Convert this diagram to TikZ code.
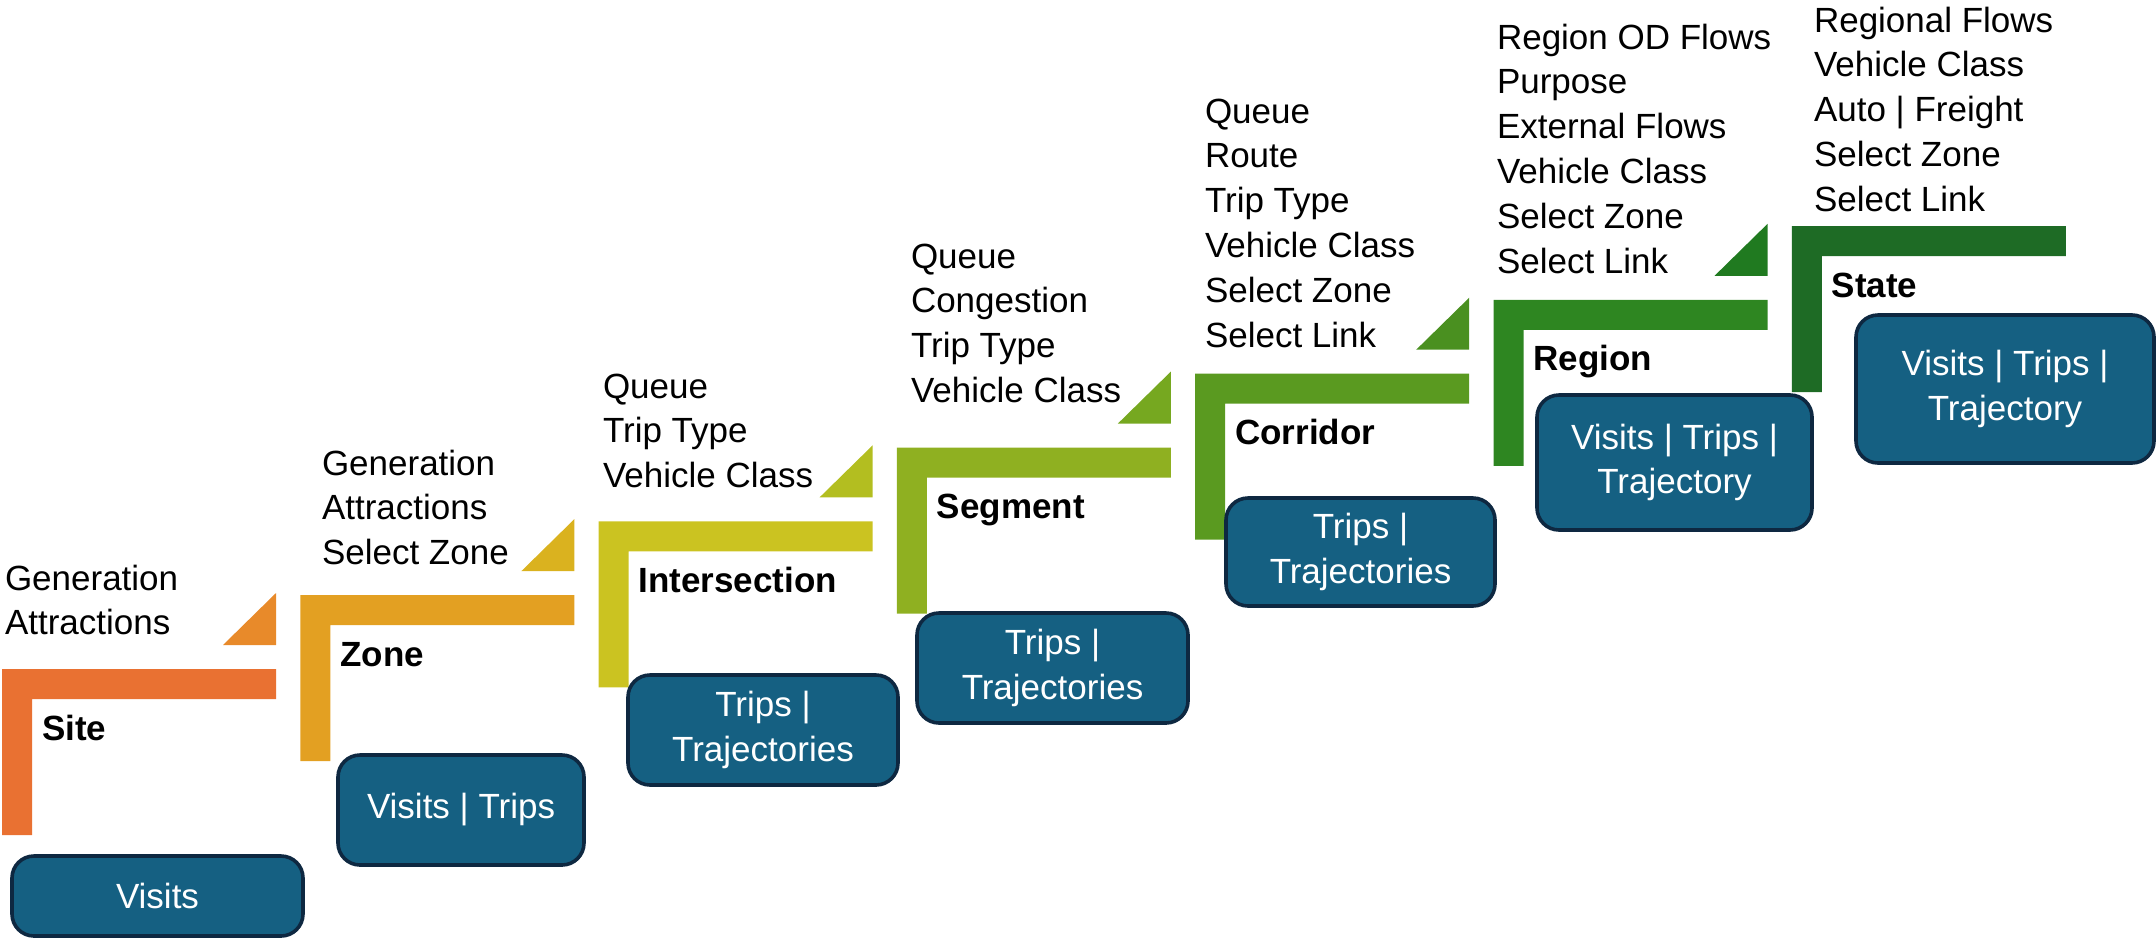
\documentclass[tikz,border=0pt]{standalone}
\usepackage{fontspec}
\setmainfont{Liberation Sans}

% stair colours: bar / wedge
\definecolor{siteC}{HTML}{E97132}
\definecolor{siteW}{HTML}{E88A2A}
\definecolor{zoneC}{HTML}{E3A022}
\definecolor{zoneW}{HTML}{DAB21F}
\definecolor{intC}{HTML}{CBC321}
\definecolor{intW}{HTML}{B3BE20}
\definecolor{segC}{HTML}{8FB021}
\definecolor{segW}{HTML}{76A820}
\definecolor{corC}{HTML}{5A9A20}
\definecolor{corW}{HTML}{4A9020}
\definecolor{regC}{HTML}{2E8621}
\definecolor{regW}{HTML}{207A20}
\definecolor{staC}{HTML}{1E6B25}
\definecolor{boxfill}{HTML}{156082}
\definecolor{boxline}{HTML}{0E2841}

\tikzset{
  listtxt/.style={anchor=base west, inner sep=0pt, outer sep=0pt,
    font=\fontsize{17.5}{22.4}\selectfont},
  stagelabel/.style={anchor=base west, inner sep=0pt, outer sep=0pt,
    font=\fontsize{17.5}{22.4}\selectfont\bfseries},
  outbox/.style={draw=boxline, line width=1.8pt, fill=boxfill,
    rounded corners=11pt, text=white, align=center, inner sep=0pt,
    outer sep=0pt, anchor=north west,
    font=\fontsize{17.5}{22.4}\selectfont},
}

% one stair step: #1 index, #2 bar colour, #3 wedge colour, #4 label, #5 name
\newcommand\stair[5]{%
  \pgfmathsetmacro\Lx{2+298.3*#1}%
  \pgfmathsetmacro\Ty{669-73.83*#1}%
  \fill[#2] (\Lx,\Ty) -- ++(274,0) -- ++(0,30) -- ++(-244,0) -- ++(0,136)
    -- ++(-30,0) -- cycle;
  \ifx\relax#3\relax\else
    \fill[#3] (\Lx+274,\Ty-76) -- (\Lx+274,\Ty-24) -- (\Lx+221,\Ty-24) -- cycle;
  \fi
  \node[stagelabel] (#5) at (\Lx+40,\Ty+71) {#4};
}

% list of attributes: #1 name, #2 x, #3 first baseline, #4 items
\newcommand\featlist[4]{%
  \foreach \t [count=\k] in {#4}
    \node[listtxt] (#1-\k) at (#2,#3+44.8*\k-44.8) {\t};
}

% output box: #1 name, #2 x1, #3 y1, #4 x2, #5 y2, #6 text
\newcommand\outbox[6]{%
  \node[outbox, minimum width={(#4-#2)*0.5pt}, minimum height={(#5-#3)*0.5pt}]
    (#1) at (#2,#3) {#6};
}

\begin{document}
\begin{tikzpicture}[x=0.5pt,y=-0.5pt]
\useasboundingbox (0,0) rectangle (2156,938);

\stair{0}{siteC}{siteW}{Site}{site}
\stair{1}{zoneC}{zoneW}{Zone}{zone}
\stair{2}{intC}{intW}{Intersection}{inter}
\stair{3}{segC}{segW}{Segment}{segment}
\stair{4}{corC}{corW}{Corridor}{corridor}
\stair{5}{regC}{regW}{Region}{region}
\stair{6}{staC}{}{State}{state}

\featlist{siteL}{5}{590}{Generation,Attractions}
\featlist{zoneL}{322}{475}{Generation,Attractions,Select Zone}
\featlist{interL}{603}{398}{Queue,Trip Type,Vehicle Class}
\featlist{segL}{911}{268}{Queue,Congestion,Trip Type,Vehicle Class}
\featlist{corL}{1205}{123}{Queue,Route,Trip Type,Vehicle Class,Select Zone,Select Link}
\featlist{regL}{1497}{49}{Region OD Flows,Purpose,External Flows,Vehicle Class,Select Zone,Select Link}
\featlist{staL}{1814}{32}{Regional Flows,Vehicle Class,Auto | Freight,Select Zone,Select Link}

\outbox{siteB}{12}{856}{303}{936}{Visits}
\outbox{zoneB}{338}{755}{584}{865}{Visits | Trips}
\outbox{interB}{628}{675}{898}{785}{Trips |\\Trajectories}
\outbox{segB}{917}{613}{1188}{723}{Trips |\\Trajectories}
\outbox{corB}{1226}{498}{1495}{606}{Trips |\\Trajectories}
\outbox{regB}{1537}{395}{1812}{530}{Visits | Trips |\\Trajectory}
\outbox{staB}{1856}{315}{2154}{463}{Visits | Trips |\\Trajectory}
\end{tikzpicture}
\end{document}
